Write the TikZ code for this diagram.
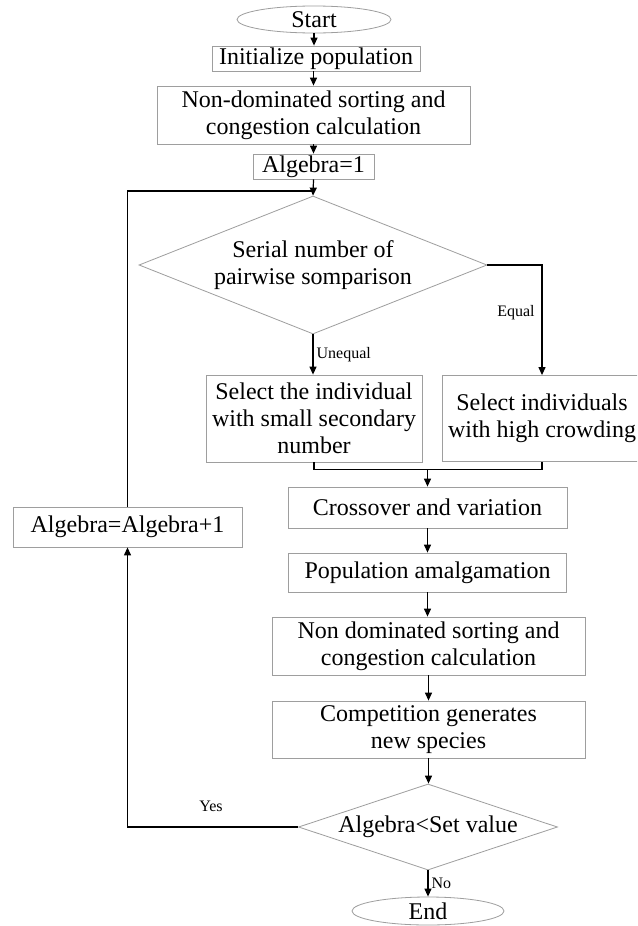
\documentclass[tikz,border=0pt]{standalone}
\usepackage{fontspec}
\setmainfont{Liberation Serif}
\usetikzlibrary{shapes.geometric,arrows.meta}
\begin{document}
\begin{tikzpicture}[x=1pt,y=-1pt,
  box/.style={draw=black!38,line width=0.8pt,rectangle,inner sep=0pt,align=center,
    font=\fontsize{24}{27}\selectfont},
  oval/.style={box,ellipse},
  dec/.style={box,diamond},
  conn/.style={line width=1.2pt,-{Triangle[length=8pt,width=7pt]}},
  plain/.style={line width=1.2pt},
  lbl/.style={font=\fontsize{16}{18}\selectfont,inner sep=0pt}]
\useasboundingbox (0,0) rectangle (637,926);
\clip (0,0) rectangle (637,926);
\fill[white] (0,0) rectangle (637,926);

\node[oval,minimum width=154pt,minimum height=27pt] (start) at (314,19.5) {Start};
\node[box,minimum width=208pt,minimum height=25pt] (init) at (316,58.5) {Initialize population};
\node[box,minimum width=313pt,minimum height=58pt] (nds1) at (313.5,115) {Non-dominated sorting and\\congestion calculation};
\node[box,minimum width=121pt,minimum height=25pt] (alg1) at (313.5,166.5) {Algebra=1};
\node[dec,minimum width=348pt,minimum height=138pt,aspect=2.52] (d1) at (313,265) {Serial number of\\pairwise somparison};
\node[box,minimum width=216pt,minimum height=87pt] (sel1) at (314,418.5) {Select the individual\\with small secondary\\number};
\node[box,minimum width=200pt,minimum height=86pt] (sel2) at (542,418.5) {Select individuals\\with high crowding};
\node[box,minimum width=279pt,minimum height=41pt] (cross) at (427.5,507.5) {Crossover and variation};
\node[box,minimum width=229pt,minimum height=40pt] (algp) at (127.5,527) {Algebra=Algebra+1};
\node[box,minimum width=278pt,minimum height=39pt] (pop) at (427.5,572.5) {Population amalgamation};
\node[box,minimum width=313pt,minimum height=58pt] (nds2) at (428.5,646) {Non dominated sorting and\\congestion calculation};
\node[box,minimum width=313pt,minimum height=57pt] (comp) at (428.5,729.5) {Competition generates\\new species};
\node[dec,minimum width=259pt,minimum height=86pt,aspect=3.0] (d2) at (428,827) {Algebra<Set value};
\node[oval,minimum width=152pt,minimum height=28pt] (end) at (428,911) {End};

\coordinate (join) at (313,191);
\coordinate (merge) at (427.5,469.5);

\draw[conn] (start.south) -- (start.south |- init.north);
\draw[conn] (init.south -| nds1.north) -- (nds1.north);
\draw[conn] (nds1.south) -- (alg1.north);
\draw[conn] (alg1.south) -- (d1.north);
\draw[conn] (d1.south) -- (sel1.north -| d1.south)
  node[lbl,pos=0.5,right=3pt] {Unequal};
\draw[conn] (d1.east) -| (sel2.north);
\node[lbl] (eq) at (516,313) {Equal};
\draw[plain] (sel1.south) |- (merge) -| (sel2.south);
\draw[conn] (merge) -- (merge |- cross.north);
\draw[conn] (cross.south) -- (pop.north);
\draw[conn] (pop.south) -- (pop.south |- nds2.north);
\draw[conn] (nds2.south) -- (comp.north);
\draw[conn] (comp.south) -- (comp.south |- d2.north);
\draw[conn] (d2.south) -- (end.north) node[lbl,pos=0.5,right=3pt] {No};
\draw[conn] (d2.west) -| (algp.south);
\node[lbl] (yes) at (211,806) {Yes};
\draw[plain] (algp.north) |- (join);
\end{tikzpicture}
\end{document}
